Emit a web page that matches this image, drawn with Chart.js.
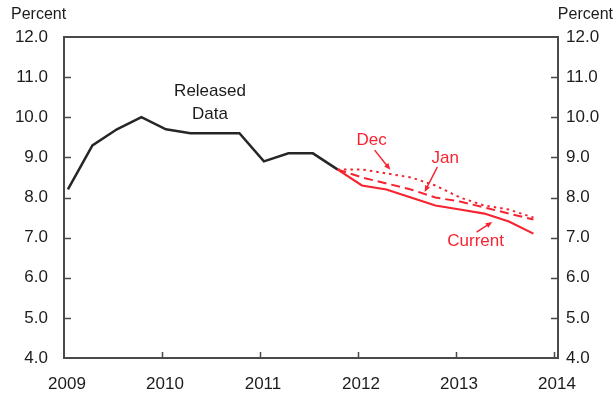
<!DOCTYPE html>
<html>
<head>
<meta charset="utf-8">
<script src="https://cdn.jsdelivr.net/npm/chart.js@4.4.1/dist/chart.umd.min.js"></script>
<style>
  html, body { margin: 0; padding: 0; background: #fff; }
  #wrap { width: 613px; height: 397px; position: relative; }
</style>
</head>
<body>
<div id="wrap"><canvas id="grafico"></canvas></div>
<script>
// quarters as labels
var releasedQuarters = ['2009Q1','2009Q2','2009Q3','2009Q4','2010Q1','2010Q2','2010Q3','2010Q4','2011Q1','2011Q2','2011Q3','2011Q4'];
var releasedData = [8.2, 9.3, 9.7, 10.0, 9.7, 9.6, 9.6, 9.6, 8.9, 9.1, 9.1, 8.7];

var forecastQuarters = ['2011Q4','2012Q1','2012Q2','2012Q3','2012Q4','2013Q1','2013Q2','2013Q3','2013Q4'];
var decForecast = [8.7, 8.7, 8.6, 8.5, 8.3, 8.0, 7.8, 7.7, 7.5];
var janForecast = [8.7, 8.5, 8.35, 8.2, 8.0, 7.9, 7.75, 7.6, 7.45];
var currentForecast = [8.7, 8.3, 8.2, 8.0, 7.8, 7.7, 7.6, 7.4, 7.1];

var yearTicks = [2009, 2010, 2011, 2012, 2013, 2014];
var yTicks = [4, 5, 6, 7, 8, 9, 10, 11, 12];

var FONT = '"Liberation Sans", Arial, sans-serif';
var RED = 'rgb(245, 36, 48)';
var INK = '#1c1c1c';

// quarter label -> position on the year axis (middle of first month)
function qx(q) {
  var y = parseInt(q.slice(0, 4));
  var n = parseInt(q.slice(5));
  return y + (n - 1) * 0.25 + 0.04;
}
function pts(quarters, vals) {
  var out = [];
  for (var i = 0; i < vals.length; i++) out.push({ x: qx(quarters[i]), y: vals[i] });
  return out;
}

// notes: text and arrows, placed in data units
var notes = [
  { text: 'Released', x: 2010.49, y: 10.65, color: INK },
  { text: 'Data', x: 2010.49, y: 10.08, color: INK },
  { text: 'Dec', x: 2012.14, y: 9.43, color: RED },
  { text: 'Jan', x: 2012.89, y: 8.98, color: RED },
  { text: 'Current', x: 2013.2, y: 6.9, color: RED }
];
var arrows = [
  { x1: 2012.17, y1: 9.18, x2: 2012.33, y2: 8.69 },
  { x1: 2012.81, y1: 8.76, x2: 2012.68, y2: 8.14 },
  { x1: 2013.21, y1: 7.14, x2: 2013.37, y2: 7.39 }
];

var framePlugin = {
  id: 'frame',
  afterDraw: function (chart) {
    var ctx = chart.ctx, a = chart.chartArea;
    var xs = chart.scales.x, yl = chart.scales.y, i;
    ctx.save();
    ctx.strokeStyle = '#4a4a4a';
    ctx.lineWidth = 2;
    ctx.strokeRect(a.left, a.top, a.right - a.left, a.bottom - a.top);
    ctx.lineWidth = 1.5;
    ctx.beginPath();
    for (i = 1; i < yTicks.length - 1; i++) {
      var py = Math.round(yl.getPixelForValue(yTicks[i])) + 0.5;
      ctx.moveTo(a.left, py); ctx.lineTo(a.left + 7, py);
      ctx.moveTo(a.right, py); ctx.lineTo(a.right - 7, py);
    }
    for (i = 1; i < yearTicks.length; i++) {
      var px = Math.round(xs.getPixelForValue(yearTicks[i])) + 0.5;
      ctx.moveTo(px, a.bottom); ctx.lineTo(px, a.bottom - 6);
    }
    ctx.stroke();

    // "Percent" headers
    ctx.fillStyle = INK;
    ctx.font = '16px ' + FONT;
    ctx.textBaseline = 'middle';
    ctx.textAlign = 'left';
    ctx.fillText('Percent', 11, 15);
    ctx.textAlign = 'right';
    ctx.fillText('Percent', 613, 15);

    // notes
    ctx.font = '17px ' + FONT;
    ctx.textAlign = 'center';
    notes.forEach(function (n) {
      ctx.fillStyle = n.color;
      ctx.fillText(n.text, xs.getPixelForValue(n.x), yl.getPixelForValue(n.y));
    });

    ctx.strokeStyle = RED;
    ctx.fillStyle = RED;
    ctx.lineWidth = 1.5;
    arrows.forEach(function (ar) {
      var x1 = xs.getPixelForValue(ar.x1), y1 = yl.getPixelForValue(ar.y1);
      var x2 = xs.getPixelForValue(ar.x2), y2 = yl.getPixelForValue(ar.y2);
      var ang = Math.atan2(y2 - y1, x2 - x1);
      ctx.beginPath();
      ctx.moveTo(x1, y1);
      ctx.lineTo(x2 - 4 * Math.cos(ang), y2 - 4 * Math.sin(ang));
      ctx.stroke();
      ctx.beginPath();
      ctx.moveTo(x2, y2);
      ctx.lineTo(x2 - 7 * Math.cos(ang - 0.4), y2 - 7 * Math.sin(ang - 0.4));
      ctx.lineTo(x2 - 7 * Math.cos(ang + 0.4), y2 - 7 * Math.sin(ang + 0.4));
      ctx.closePath();
      ctx.fill();
    });
    ctx.restore();
  }
};

var ctx = document.getElementById('grafico').getContext('2d');
var chart = new Chart(ctx, {
  type: 'line',
  data: {
    datasets: [
      {
        label: 'Dec',
        data: pts(forecastQuarters, decForecast),
        borderColor: RED,
        borderWidth: 2,
        borderDash: [2.5, 4],
        pointRadius: 0,
        order: 3
      },
      {
        label: 'Jan',
        data: pts(forecastQuarters, janForecast),
        borderColor: RED,
        borderWidth: 2,
        borderDash: [9, 5],
        pointRadius: 0,
        order: 2
      },
      {
        label: 'Current',
        data: pts(forecastQuarters, currentForecast),
        borderColor: RED,
        borderWidth: 2.2,
        pointRadius: 0,
        order: 1
      },
      {
        label: 'Released Data',
        data: pts(releasedQuarters, releasedData),
        borderColor: '#262626',
        borderWidth: 2.5,
        pointRadius: 0,
        order: 0
      }
    ]
  },
  options: {
    responsive: true,
    maintainAspectRatio: false,
    animation: false,
    layout: { padding: { top: 37, left: 0, right: 0, bottom: 0 } },
    plugins: { legend: { display: false }, tooltip: { enabled: false } },
    scales: {
      x: {
        type: 'linear',
        min: 2009,
        max: 2014.041,
        afterBuildTicks: function (s) { s.ticks = yearTicks.map(function (v) { return { value: v }; }); },
        afterFit: function (s) { s.height = 39; },
        grid: { display: false, drawTicks: false },
        border: { display: false },
        ticks: {
          padding: 16,
          labelOffset: 3,
          color: INK,
          font: { family: FONT, size: 17 },
          maxRotation: 0,
          callback: function (v) { return String(v); }
        }
      },
      y: {
        position: 'left',
        min: 4,
        max: 12,
        afterBuildTicks: function (s) { s.ticks = yTicks.map(function (v) { return { value: v }; }); },
        afterFit: function (s) { s.width = 64; },
        grid: { display: false, drawTicks: false },
        border: { display: false },
        ticks: {
          padding: 16,
          color: INK,
          font: { family: FONT, size: 17 },
          callback: function (v) { return v.toFixed(1); }
        }
      },
      y2: {
        position: 'right',
        min: 4,
        max: 12,
        afterBuildTicks: function (s) { s.ticks = yTicks.map(function (v) { return { value: v }; }); },
        afterFit: function (s) { s.width = 55; },
        grid: { display: false, drawTicks: false },
        border: { display: false },
        ticks: {
          padding: 8,
          color: INK,
          font: { family: FONT, size: 17 },
          callback: function (v) { return v.toFixed(1); }
        }
      }
    }
  },
  plugins: [framePlugin]
});
</script>
</body>
</html>
